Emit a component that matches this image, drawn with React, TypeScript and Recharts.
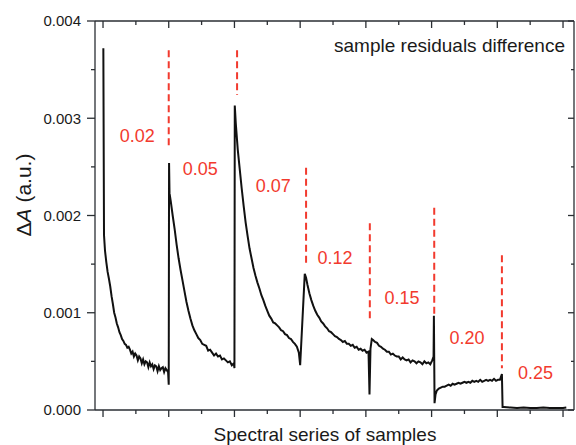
import React from "react";
import { LineChart, Line, XAxis, YAxis, ReferenceLine, ReferenceDot } from "recharts";

// ΔA values in units of 1e-3, x in "sample" units (one tick interval per sample)
const seg002: [number, number][] = [
  [0.005, 3.72], [0.015, 1.8], [0.03, 1.64], [0.05, 1.52], [0.07, 1.42], [0.09, 1.35], [0.11, 1.27], [0.13, 1.17],
  [0.15, 1.09], [0.17, 1.0], [0.19, 0.95], [0.21, 0.89], [0.23, 0.85], [0.25, 0.8], [0.27, 0.77], [0.29, 0.73],
  [0.31, 0.71], [0.33, 0.68], [0.35, 0.67], [0.37, 0.64], [0.39, 0.65], [0.41, 0.62], [0.43, 0.58], [0.45, 0.6],
  [0.47, 0.55], [0.49, 0.58], [0.51, 0.56], [0.53, 0.51], [0.55, 0.55], [0.57, 0.53], [0.59, 0.48], [0.61, 0.52],
  [0.63, 0.47], [0.65, 0.5], [0.67, 0.49], [0.69, 0.44], [0.71, 0.49], [0.73, 0.45], [0.75, 0.47], [0.77, 0.42],
  [0.79, 0.46], [0.81, 0.45], [0.83, 0.4], [0.85, 0.45], [0.87, 0.41], [0.89, 0.43], [0.91, 0.44], [0.93, 0.39],
  [0.95, 0.43], [0.97, 0.41], [0.99, 0.39], [1.0, 0.26],
];
const seg005: [number, number][] = [
  [1.005, 2.54], [1.012, 2.23], [1.03, 2.15], [1.06, 2.0], [1.09, 1.86], [1.12, 1.7], [1.15, 1.56], [1.18, 1.44],
  [1.21, 1.33], [1.24, 1.22], [1.27, 1.11], [1.3, 1.02], [1.33, 0.94], [1.36, 0.87], [1.39, 0.82], [1.42, 0.78],
  [1.45, 0.74], [1.48, 0.72], [1.51, 0.68], [1.54, 0.67], [1.57, 0.66], [1.6, 0.61], [1.63, 0.62], [1.66, 0.59],
  [1.69, 0.56], [1.72, 0.58], [1.75, 0.55], [1.78, 0.56], [1.81, 0.52], [1.84, 0.53], [1.87, 0.51], [1.9, 0.49],
  [1.93, 0.5], [1.96, 0.46], [1.99, 0.48], [2.0, 0.43],
];
const seg007: [number, number][] = [
  [2.005, 3.13], [2.02, 2.95], [2.05, 2.68], [2.08, 2.48], [2.11, 2.28], [2.14, 2.1], [2.17, 1.93], [2.2, 1.79],
  [2.23, 1.66], [2.26, 1.56], [2.29, 1.46], [2.32, 1.38], [2.35, 1.31], [2.38, 1.25], [2.41, 1.18], [2.44, 1.13],
  [2.47, 1.07], [2.5, 1.02], [2.53, 0.97], [2.56, 0.94], [2.59, 0.9], [2.62, 0.89], [2.65, 0.87], [2.68, 0.85],
  [2.71, 0.82], [2.74, 0.81], [2.77, 0.78], [2.8, 0.77], [2.83, 0.74], [2.86, 0.73], [2.89, 0.7], [2.92, 0.68],
  [2.95, 0.65], [2.98, 0.59], [3.0, 0.46],
];
const seg012: [number, number][] = [
  [3.07, 1.4], [3.09, 1.36], [3.11, 1.29], [3.14, 1.2], [3.17, 1.13], [3.2, 1.07], [3.23, 1.02], [3.26, 0.98],
  [3.29, 0.95], [3.32, 0.91], [3.35, 0.89], [3.38, 0.86], [3.41, 0.84], [3.44, 0.81], [3.47, 0.8], [3.5, 0.78],
  [3.53, 0.76], [3.56, 0.75], [3.59, 0.73], [3.62, 0.72], [3.65, 0.7], [3.68, 0.71], [3.71, 0.68], [3.74, 0.68],
  [3.77, 0.66], [3.8, 0.67], [3.83, 0.64], [3.86, 0.65], [3.89, 0.62], [3.92, 0.63], [3.95, 0.61], [3.98, 0.62],
  [4.01, 0.59], [4.04, 0.6], [4.055, 0.16], [4.07, 0.63], [4.09, 0.73],
];
const seg015: [number, number][] = [
  [4.11, 0.72], [4.14, 0.7], [4.17, 0.69], [4.2, 0.66], [4.23, 0.65], [4.26, 0.63], [4.29, 0.62], [4.32, 0.6],
  [4.35, 0.6], [4.38, 0.57], [4.41, 0.58], [4.44, 0.56], [4.47, 0.55], [4.5, 0.55], [4.53, 0.52], [4.56, 0.54],
  [4.59, 0.52], [4.62, 0.51], [4.65, 0.52], [4.68, 0.49], [4.71, 0.51], [4.74, 0.5], [4.77, 0.48], [4.8, 0.5],
  [4.83, 0.49], [4.86, 0.47], [4.89, 0.5], [4.92, 0.48], [4.95, 0.49], [4.98, 0.47], [5.01, 0.51], [5.03, 0.55],
  [5.035, 0.97], [5.045, 0.07],
];
const seg020: [number, number][] = [
  [5.06, 0.16], [5.08, 0.2], [5.11, 0.22], [5.14, 0.23], [5.17, 0.24], [5.2, 0.24], [5.23, 0.25], [5.26, 0.26],
  [5.29, 0.25], [5.32, 0.27], [5.35, 0.26], [5.38, 0.27], [5.41, 0.28], [5.44, 0.27], [5.47, 0.28], [5.5, 0.29],
  [5.53, 0.28], [5.56, 0.29], [5.59, 0.28], [5.62, 0.3], [5.65, 0.29], [5.68, 0.3], [5.71, 0.29], [5.74, 0.31],
  [5.77, 0.29], [5.8, 0.3], [5.83, 0.31], [5.86, 0.3], [5.89, 0.31], [5.92, 0.3], [5.95, 0.32], [5.98, 0.3],
  [6.01, 0.31], [6.04, 0.31], [6.07, 0.37], [6.08, 0.03],
];
const seg025: [number, number][] = [
  [6.1, 0.03], [6.2, 0.025], [6.3, 0.02], [6.4, 0.025], [6.5, 0.02], [6.6, 0.02], [6.7, 0.025], [6.8, 0.02],
  [6.9, 0.02], [7.0, 0.02], [7.05, 0.025],
];

const concentrations = ["0.02", "0.05", "0.07", "0.12", "0.15", "0.20", "0.25"];
const labelX = [0.52, 1.48, 2.59, 3.53, 4.55, 5.54, 6.58];
const labelY = [2.82, 2.48, 2.31, 1.57, 1.16, 0.74, 0.38];

// red dashed markers between samples
const boundaryX = [1.0, 2.04, 3.09, 4.06, 5.04, 6.07];
const dashTop = [3.7, 3.7, 2.49, 1.92, 2.08, 1.59];
const dashBottom = [2.7, 3.24, 1.51, 0.92, 0.99, 0.43];

const xTicks = [0, 0.5, 1, 1.5, 2, 2.5, 3, 3.5, 4, 4.5, 5, 5.5, 6, 6.5, 7];
const yTicks = [0, 0.0005, 0.001, 0.0015, 0.002, 0.0025, 0.003, 0.0035, 0.004];

const data = [...seg002, ...seg005, ...seg007, ...seg012, ...seg015, ...seg020, ...seg025].map(([x, v]) => ({
  x,
  y: v / 1000,
}));

const W = 576;
const H = 445;
const LEFT = 95;
const RIGHT = 574;
const TOP = 21;
const BOTTOM = 410;
const AXIS = "#2a2e33";
const RED = "#f23a2e";
const FONT = "'Liberation Sans', Arial, Helvetica, sans-serif";

const isMajorY = (v: number) => Math.abs(v * 1000 - Math.round(v * 1000)) < 1e-6;
const isMajorX = (v: number) => Math.abs(v - Math.round(v)) < 1e-6;

function LeftTick(props: any) {
  const { y, payload } = props;
  const major = isMajorY(payload.value);
  return (
    <g>
      <line x1={LEFT - (major ? 8 : 4)} x2={LEFT} y1={y} y2={y} stroke={AXIS} strokeWidth={1.3} />
      {major && (
        <text x={81} y={y} dy="0.36em" textAnchor="end" fontSize={15} fontFamily={FONT} fill="#1a1a1a">
          {payload.value.toFixed(3)}
        </text>
      )}
    </g>
  );
}

function RightTick(props: any) {
  const { y, payload } = props;
  const major = isMajorY(payload.value);
  return <line x1={RIGHT - (major ? 6 : 3)} x2={RIGHT} y1={y} y2={y} stroke={AXIS} strokeWidth={1.3} />;
}

function BottomTick(props: any) {
  const { x, payload } = props;
  const major = isMajorX(payload.value);
  return <line x1={x} x2={x} y1={BOTTOM} y2={BOTTOM + (major ? 7 : 4)} stroke={AXIS} strokeWidth={1.3} />;
}

function TopTick(props: any) {
  const { x, payload } = props;
  const major = isMajorX(payload.value);
  return <line x1={x} x2={x} y1={TOP} y2={TOP + (major ? 7 : 4)} stroke={AXIS} strokeWidth={1.3} />;
}

export default function App() {
  return (
    <div style={{ position: "absolute", left: 0, top: 0, width: W, height: H, background: "#fff", fontFamily: FONT }}>
      <LineChart width={W} height={H} data={data} margin={{ top: TOP, right: W - RIGHT, bottom: 0, left: 0 }}>
        <XAxis
          dataKey="x"
          type="number"
          domain={[-0.122, 7.167]}
          ticks={xTicks}
          interval={0}
          allowDataOverflow
          height={H - BOTTOM}
          tickLine={false}
          tick={<BottomTick />}
          axisLine={{ stroke: AXIS, strokeWidth: 1.3 }}
        />
        <XAxis
          xAxisId="top"
          orientation="top"
          mirror
          dataKey="x"
          type="number"
          domain={[-0.122, 7.167]}
          ticks={xTicks}
          interval={0}
          allowDataOverflow
          tickLine={false}
          tick={<TopTick />}
          axisLine={{ stroke: AXIS, strokeWidth: 1.3 }}
        />
        <YAxis
          type="number"
          domain={[0, 0.004]}
          ticks={yTicks}
          interval={0}
          allowDataOverflow
          width={LEFT}
          tickLine={false}
          tick={<LeftTick />}
          axisLine={{ stroke: AXIS, strokeWidth: 1.3 }}
        />
        <YAxis
          yAxisId="right"
          orientation="right"
          mirror
          type="number"
          domain={[0, 0.004]}
          ticks={yTicks}
          interval={0}
          allowDataOverflow
          tickLine={false}
          tick={<RightTick />}
          axisLine={{ stroke: AXIS, strokeWidth: 1.3 }}
        />
        {boundaryX.map((bx, i) => (
          <ReferenceLine
            key={`d${i}`}
            segment={[
              { x: bx, y: dashTop[i] / 1000 },
              { x: bx, y: dashBottom[i] / 1000 },
            ]}
            stroke={RED}
            strokeWidth={2}
            strokeDasharray="7 4"
          />
        ))}
        <Line
          dataKey="y"
          type="linear"
          stroke="#111"
          strokeWidth={2}
          dot={false}
          activeDot={false}
          isAnimationActive={false}
        />
        {concentrations.map((c, i) => (
          <ReferenceDot
            key={`l${i}`}
            x={labelX[i]}
            y={labelY[i] / 1000}
            r={0}
            fill="none"
            stroke="none"
            label={{ value: c, position: "center", fill: RED, fontSize: 18, fontFamily: FONT }}
          />
        ))}
      </LineChart>
      <svg width={W} height={H} style={{ position: "absolute", left: 0, top: 0, pointerEvents: "none" }}>
        <text x={565} y={52} textAnchor="end" fontSize={19} fontFamily={FONT} fill="#1a1a1a">
          sample residuals difference
        </text>
        <text x={325} y={441} textAnchor="middle" fontSize={19} fontFamily={FONT} fill="#1a1a1a">
          Spectral series of samples
        </text>
        <text
          transform="translate(31,195) rotate(-90)"
          textAnchor="middle"
          fontSize={21}
          fontFamily={FONT}
          fill="#1a1a1a"
        >
          Δ<tspan fontStyle="italic">A</tspan> (a.u.)
        </text>
      </svg>
    </div>
  );
}
